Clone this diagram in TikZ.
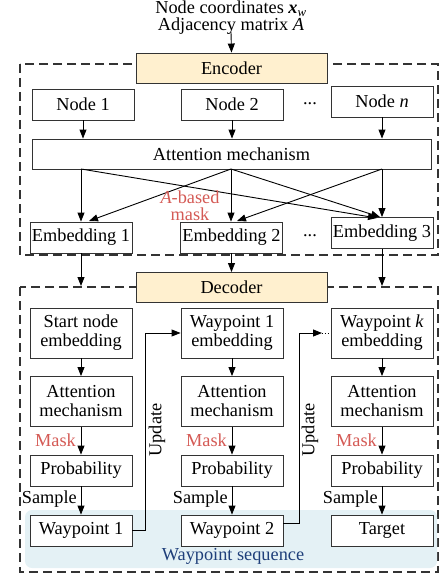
\documentclass[tikz,border=0pt]{standalone}
\usepackage{fontspec}
\setmainfont{Liberation Serif}
\usetikzlibrary{arrows.meta,positioning}
\definecolor{encfill}{HTML}{FFF0CF}
\definecolor{maskred}{HTML}{D45A55}
\definecolor{seqblue}{HTML}{1F3F7A}
\definecolor{seqbg}{HTML}{E4F1F5}
\definecolor{boxline}{HTML}{333333}
\tikzset{
  box/.style={draw=boxline,line width=0.9pt,fill=white,inner sep=1pt,align=center,
    font=\fontsize{18.3}{21}\selectfont},
  sbox/.style={box,minimum width=102pt,minimum height=31pt},
  tbox/.style={box,minimum width=102pt,minimum height=50pt},
  coder/.style={box,fill=encfill,minimum width=191pt,minimum height=30pt},
  frame/.style={draw=black!80,line width=1.3pt,dash pattern=on 9pt off 5pt},
  arr/.style={line width=0.9pt,-{Triangle[length=9pt,width=7pt]}},
  ln/.style={line width=0.9pt},
  lbl/.style={font=\fontsize{18.3}{21}\selectfont,inner sep=0pt},
  redlbl/.style={lbl,text=maskred},
}
\begin{document}
\begin{tikzpicture}[x=1pt,y=-1pt]
\useasboundingbox (0,0) rectangle (439,575);
% frames
\draw[frame] (20,64) rectangle (438,255);
\draw[frame] (20,287) rectangle (438,572);
\fill[seqbg,rounded corners=7pt] (25,510) rectangle (437,568);
\node[lbl,text=seqblue] (seq) at (233,556) {Waypoint sequence};
% title
\node[lbl,align=center,font=\fontsize{18.3}{17}\selectfont] (title) at (231,18)
  {Node coordinates \textbf{\textit{x}}\textsubscript{\textit{w}}\\Adjacency matrix \textit{A}};
\coordinate (tin) at (231,32);
% encoder
\node[coder] (enc) at (231.5,68) {Encoder};
\draw[arr] (tin) -- (enc.north);
\node[sbox] (n1) at (83,104.5) {Node 1};
\node[sbox] (n2) at (232,104.5) {Node 2};
\node[sbox] (nn) at (382,101.5) {Node \textit{n}};
\node[lbl] (d1) at (310,104) {...};
\node[box,minimum width=399pt,minimum height=30pt] (att) at (231.5,154) {Attention mechanism};
\draw[arr] (n1.south) -- (n1.south |- att.north);
\draw[arr] (n2.south) -- (n2.south |- att.north);
\draw[arr] (nn.south) -- (nn.south |- att.north);
\node[sbox] (e1) at (81,237.5) {Embedding 1};
\node[sbox] (e2) at (231.5,237.5) {Embedding 2};
\node[sbox] (e3) at (382,233) {Embedding 3};
\node[lbl] (d2) at (310,236) {...};
\coordinate (a1) at (81,169);
\coordinate (a2) at (231,169);
\coordinate (a3) at (382,169);
\coordinate (t1) at (89,221);
\coordinate (t2) at (237,221);
\coordinate (t3a) at (377,218);
\coordinate (t3b) at (380,217);
\draw[arr] (a1) -- (a1 |- e1.north);
\draw[arr] (a2) -- (a2 |- e2.north);
\draw[arr] (a3) -- (a3 |- e3.north);
\draw[arr] (a2) -- (t1);
\draw[arr] (a3) -- (t2);
\draw[arr] (a1) -- (t3a);
\draw[arr] (a2) -- (t3b);
\node[redlbl,align=center,font=\fontsize{18.3}{17}\selectfont] (am) at (190,206) {\textit{A}-based\\mask};
% decoder
\node[coder] (dec) at (231.5,287.5) {Decoder};
\coordinate (f1) at (81,286);
\coordinate (f3) at (382,286);
\draw[arr] (e1.south) -- (f1);
\draw[arr] (e2.south) -- (e2.south |- dec.north);
\draw[arr] (e3.south) -- (f3);
% columns
\node[tbox] (s1) at (81,333) {Start node\\[-2pt]embedding};
\node[tbox] (s2) at (232,333) {Waypoint 1\\[-2pt]embedding};
\node[tbox] (s3) at (382,333) {Waypoint \textit{k}\\[-2pt]embedding};
\node[tbox] (m1) at (81,401.5) {Attention\\[-2pt]mechanism};
\node[tbox] (m2) at (232,401.5) {Attention\\[-2pt]mechanism};
\node[tbox] (m3) at (382,401.5) {Attention\\[-2pt]mechanism};
\node[sbox] (p1) at (81,470.5) {Probability};
\node[sbox] (p2) at (232,470.5) {Probability};
\node[sbox] (p3) at (382,470.5) {Probability};
\node[sbox] (w1) at (81,530.5) {Waypoint 1};
\node[sbox] (w2) at (232,530.5) {Waypoint 2};
\node[sbox] (w3) at (382,530.5) {Target};
\foreach \i in {1,2,3}{
  \draw[arr] (s\i.south) -- (m\i.north);
  \draw[arr] (m\i.south) -- (p\i.north);
  \draw[arr] (p\i.south) -- (w\i.north);
}
\node[redlbl,anchor=east] (mk1) at (76,440) {Mask};
\node[redlbl,anchor=east] (mk2) at (227,440) {Mask};
\node[redlbl,anchor=east] (mk3) at (377,440) {Mask};
\node[lbl,anchor=east] (sa1) at (77,499) {Sample};
\node[lbl,anchor=east] (sa2) at (228,499) {Sample};
\node[lbl,anchor=east] (sa3) at (378,499) {Sample};
% updates
\coordinate (u1) at (145,333);
\draw[ln] (w1.east) -| (u1);
\draw[arr] (u1) -- (s2.west);
\coordinate (u2) at (299,333);
\coordinate (u2e) at (322,333);
\draw[ln] ([yshift=7.5pt]w2.east) -| (u2);
\draw[arr] (u2) -- (u2e);
\draw[ln,dotted] (u2e) -- (s3.west);
\node[lbl,rotate=90] (up1) at (157,430) {Update};
\node[lbl,rotate=90] (up2) at (310,430) {Update};
\end{tikzpicture}
\end{document}
